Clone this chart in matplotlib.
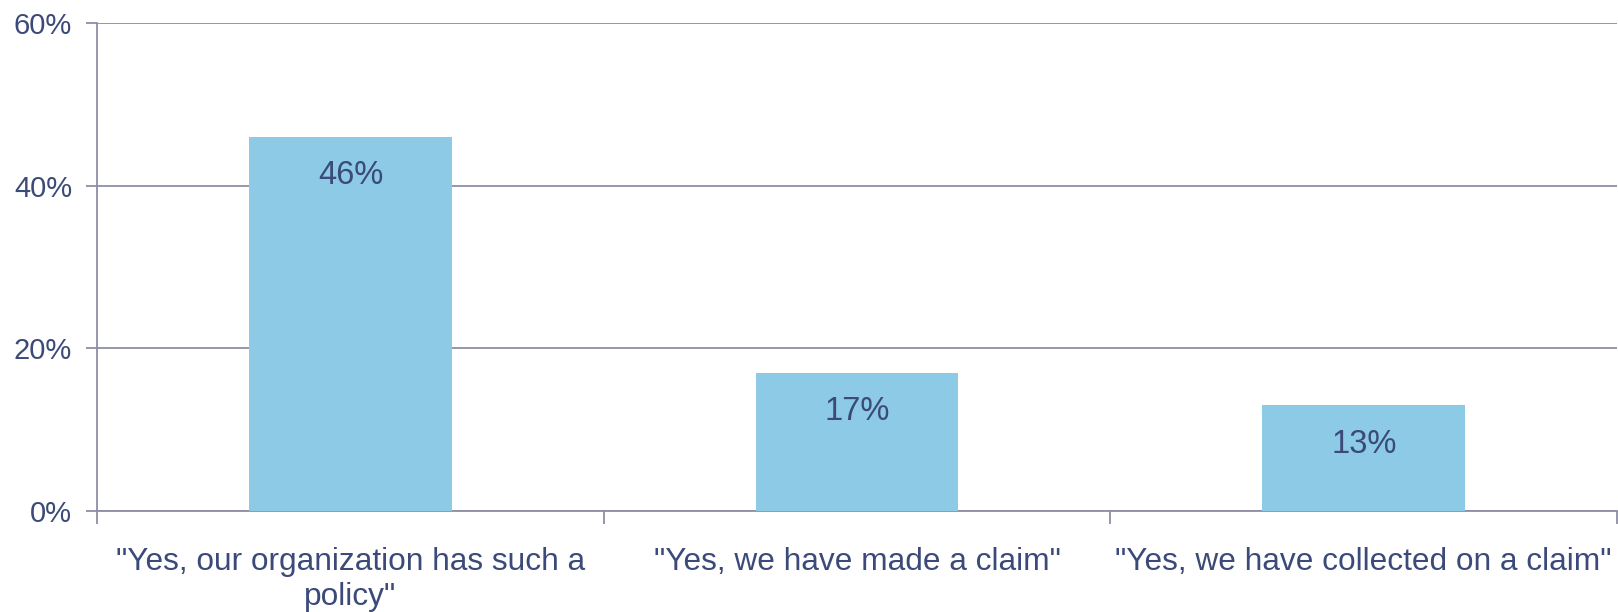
import matplotlib
matplotlib.use("Agg")
import matplotlib.pyplot as plt
from matplotlib.ticker import FixedLocator, PercentFormatter

# survey answers and share of respondents
categories = ['"Yes, our organization has such a\npolicy"',
              '"Yes, we have made a claim"',
              '"Yes, we have collected on a claim"']
shares = [46, 17, 13]
y_ticks = [0, 20, 40, 60]

TEXT = "#3b4a78"
GRID = "#8e8fa5"
BAR = "#8ccae6"

plt.rcParams['font.family'] = ['Liberation Sans', 'DejaVu Sans']

fig = plt.figure(figsize=(16.18, 6.12), dpi=100)
ax = fig.add_axes([0.06, 0.165, 0.9394, 0.797])

x = list(range(len(categories)))
bars = ax.bar(x, shares, width=0.4, color=BAR, zorder=3)

# value labels just under the top of each bar
for b, v in zip(bars, shares):
    ax.annotate(f"{v}%", (b.get_x() + b.get_width() / 2, v),
                xytext=(0, -28), textcoords="offset points",
                ha="center", va="center", fontsize=23.5, color=TEXT, zorder=4)

ax.set_xlim(-0.5, len(categories) - 0.5)
ax.set_ylim(0, 60)
ax.set_yticks(y_ticks)
ax.yaxis.set_major_formatter(PercentFormatter(decimals=0))
ax.grid(axis="y", color=GRID, linewidth=1.3, zorder=0)

# tick marks between categories, labels centred under the bars
ax.xaxis.set_major_locator(FixedLocator([i - 0.5 for i in range(len(categories) + 1)]))
ax.xaxis.set_minor_locator(FixedLocator(x))
ax.set_xticklabels([], minor=False)
ax.set_xticklabels(categories, minor=True, fontsize=22.8, color=TEXT, linespacing=1.2)
ax.tick_params(axis="x", which="major", length=9, color=GRID, width=1.3)
ax.tick_params(axis="x", which="minor", length=0, pad=26)
ax.tick_params(axis="y", length=8, color=GRID, width=1.3, pad=10, labelsize=21, labelcolor=TEXT)

for side in ("top", "right"):
    ax.spines[side].set_visible(False)
for side in ("left", "bottom"):
    ax.spines[side].set_color(GRID)
    ax.spines[side].set_linewidth(1.3)

fig.savefig("out.png", dpi=100)
